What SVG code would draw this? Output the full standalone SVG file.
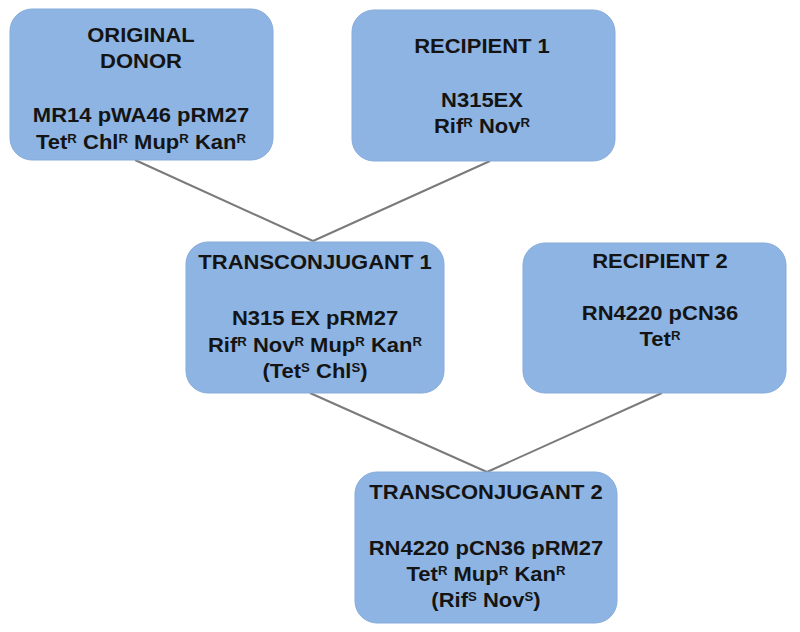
<svg xmlns="http://www.w3.org/2000/svg" width="800" height="632" viewBox="0 0 800 632">
<style>
.box{fill:#8eb4e3;stroke:#86abd9;stroke-width:1}
.t{font-family:"Liberation Sans",Arial,sans-serif;font-weight:bold;font-size:20px;fill:#141414;text-anchor:middle}
.s{font-size:12px}
.c{stroke:#7a7a7a;stroke-width:2;fill:none}
</style>
<rect width="800" height="632" fill="#ffffff"/>
<g id="connectors">
<line class="c" x1="135" y1="160" x2="313" y2="241"/>
<line class="c" x1="490" y1="161" x2="313" y2="241"/>
<line class="c" x1="310" y1="393" x2="487" y2="472"/>
<line class="c" x1="662" y1="393" x2="487" y2="472"/>
</g>
<g id="original-donor">
<rect class="box" x="10" y="9" width="263" height="151" rx="22"/>
<g transform="translate(141 0) scale(1.1 1)">
<text class="t" x="0" y="42">ORIGINAL</text>
<text class="t" x="0" y="68">DONOR</text>
<text class="t" x="0" y="122">MR14 pWA46 pRM27</text>
<text class="t" x="0" y="149">Tet<tspan class="s" dy="-6">R</tspan><tspan dy="6"> Chl</tspan><tspan class="s" dy="-6">R</tspan><tspan dy="6"> Mup</tspan><tspan class="s" dy="-6">R</tspan><tspan dy="6"> Kan</tspan><tspan class="s" dy="-6">R</tspan></text>
</g>
</g>
<g id="recipient-1">
<rect class="box" x="352" y="10" width="263" height="151" rx="22"/>
<g transform="translate(482 0) scale(1.1 1)">
<text class="t" x="0" y="53">RECIPIENT 1</text>
<text class="t" x="0" y="107">N315EX</text>
<text class="t" x="0" y="133">Rif<tspan class="s" dy="-6">R</tspan><tspan dy="6"> Nov</tspan><tspan class="s" dy="-6">R</tspan></text>
</g>
</g>
<g id="transconjugant-1">
<rect class="box" x="186" y="242" width="258" height="151" rx="22"/>
<g transform="translate(315 0) scale(1.1 1)">
<text class="t" x="0" y="269">TRANSCONJUGANT 1</text>
<text class="t" x="0" y="325">N315 EX pRM27</text>
<text class="t" x="0" y="352">Rif<tspan class="s" dy="-6">R</tspan><tspan dy="6"> Nov</tspan><tspan class="s" dy="-6">R</tspan><tspan dy="6"> Mup</tspan><tspan class="s" dy="-6">R</tspan><tspan dy="6"> Kan</tspan><tspan class="s" dy="-6">R</tspan></text>
<text class="t" x="0" y="378">(Tet<tspan class="s" dy="-6">S</tspan><tspan dy="6"> Chl</tspan><tspan class="s" dy="-6">S</tspan><tspan dy="6">)</tspan></text>
</g>
</g>
<g id="recipient-2">
<rect class="box" x="523" y="243" width="263" height="150" rx="22"/>
<g transform="translate(660 0) scale(1.1 1)">
<text class="t" x="0" y="268">RECIPIENT 2</text>
<text class="t" x="0" y="320">RN4220 pCN36</text>
<text class="t" x="0" y="346">Tet<tspan class="s" dy="-6">R</tspan></text>
</g>
</g>
<g id="transconjugant-2">
<rect class="box" x="355" y="472" width="262" height="151" rx="22"/>
<g transform="translate(486 0) scale(1.1 1)">
<text class="t" x="0" y="499">TRANSCONJUGANT 2</text>
<text class="t" x="0" y="555">RN4220 pCN36 pRM27</text>
<text class="t" x="0" y="581">Tet<tspan class="s" dy="-6">R</tspan><tspan dy="6"> Mup</tspan><tspan class="s" dy="-6">R</tspan><tspan dy="6"> Kan</tspan><tspan class="s" dy="-6">R</tspan></text>
<text class="t" x="0" y="607">(Rif<tspan class="s" dy="-6">S</tspan><tspan dy="6"> Nov</tspan><tspan class="s" dy="-6">S</tspan><tspan dy="6">)</tspan></text>
</g>
</g>
</svg>
